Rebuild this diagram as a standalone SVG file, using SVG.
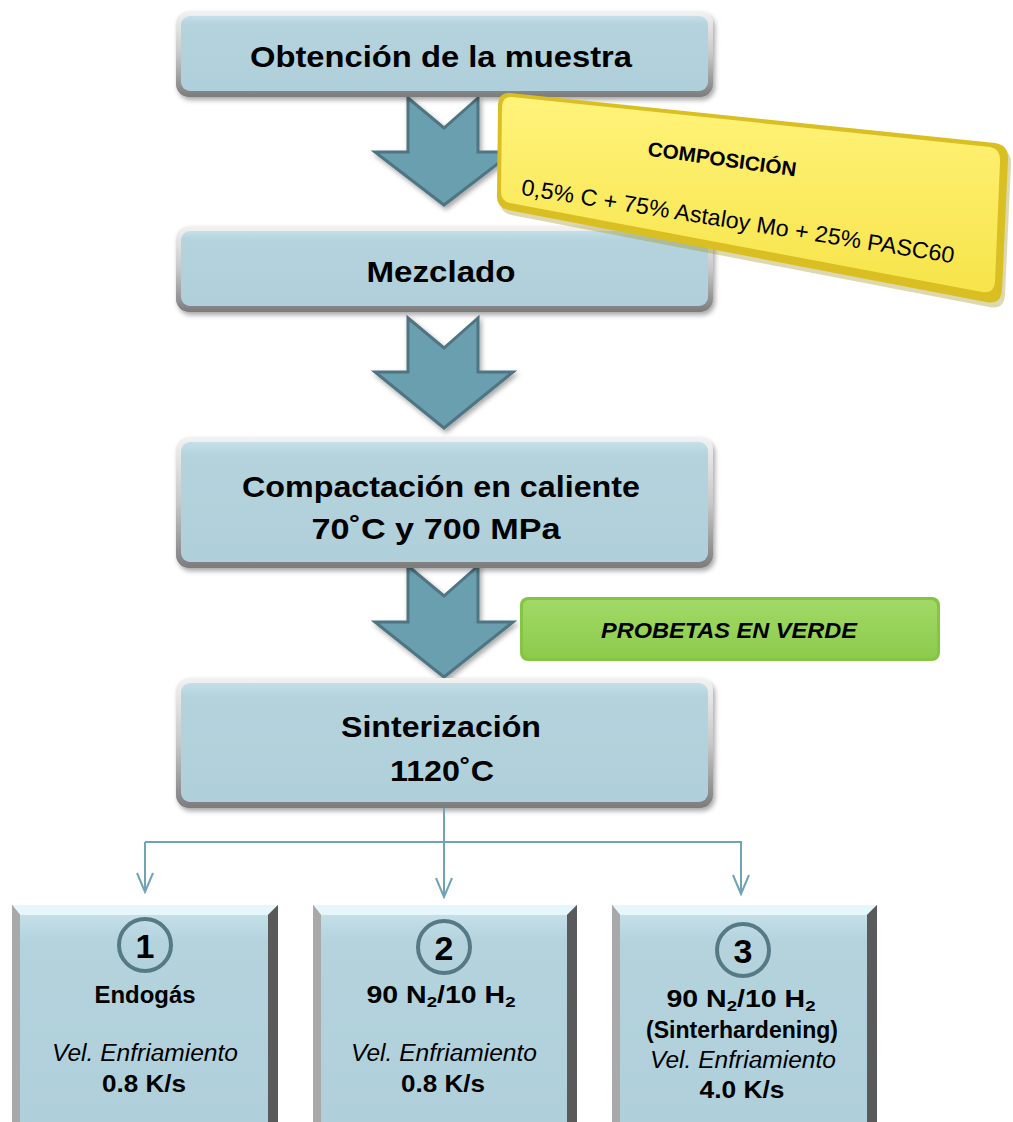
<svg xmlns="http://www.w3.org/2000/svg" width="1013" height="1122" viewBox="0 0 1013 1122">
<defs>
<linearGradient id="gFrame" x1="0" y1="0" x2="0" y2="1">
<stop offset="0" stop-color="#f2f2f2"/><stop offset="0.5" stop-color="#c8c8c8"/><stop offset="1" stop-color="#7c7c7c"/>
</linearGradient>
<linearGradient id="gFace" x1="0" y1="0" x2="0" y2="1">
<stop offset="0" stop-color="#c4dfe8"/><stop offset="0.12" stop-color="#b4d3dd"/><stop offset="1" stop-color="#afcfda"/>
</linearGradient>
<linearGradient id="gYellow" x1="0" y1="0" x2="0" y2="1">
<stop offset="0" stop-color="#fff37a"/><stop offset="1" stop-color="#f7e44a"/>
</linearGradient>
<linearGradient id="gGreen" x1="0" y1="0" x2="0" y2="1">
<stop offset="0" stop-color="#a2d966"/><stop offset="1" stop-color="#8ccb4c"/>
</linearGradient>
<filter id="sh" x="-10%" y="-10%" width="120%" height="130%">
<feDropShadow dx="2" dy="3" stdDeviation="2.5" flood-color="#000" flood-opacity="0.35"/>
</filter>
<marker id="arr" markerWidth="22" markerHeight="18" refX="20" refY="9" orient="auto" markerUnits="userSpaceOnUse" viewBox="0 0 22 18">
<path d="M1,1 L20,9 L1,17" fill="none" stroke="#6fa3b5" stroke-width="2"/>
</marker>
<style>
.t{font-family:"Liberation Sans",Arial,sans-serif;fill:#000;}
.b{font-weight:bold;}
.i{font-style:italic;}
.frame{fill:url(#gFrame);filter:url(#sh);}
.face{fill:url(#gFace);}
.arrow{fill:#6b9fb0;stroke:#4f7582;stroke-width:3;stroke-linejoin:miter;filter:url(#sh);}
.con{fill:none;stroke:#6fa3b5;stroke-width:2;}
.circ{fill:none;stroke:#557a86;stroke-width:4;}
.bevL{fill:#a9a9a9;}
.bevT{fill:#e6f7fb;}
.bevR{fill:#5a5a5a;}
</style>
</defs>

<g id="arrows">
<path class="arrow" d="M408,98 L444,128 L478,98 L478,152 L513,152 L444,205 L375,152 L408,152 Z"/>
<path class="arrow" d="M408,318 L444,348 L478,318 L478,372 L513,372 L444,428 L375,372 L408,372 Z"/>
<path class="arrow" d="M408,566 L444,596 L478,566 L478,622 L513,622 L444,677 L375,622 L408,622 Z"/>
</g>

<g id="n1">
<rect class="frame" x="176" y="11" width="537" height="86" rx="13"/>
<rect class="face" x="181" y="16" width="527" height="75" rx="9"/>
<text class="t b" x="441" y="67" font-size="30" text-anchor="middle" textLength="382" lengthAdjust="spacingAndGlyphs">Obtención de la muestra</text>
</g>

<g id="n2">
<rect class="frame" x="176" y="226" width="537" height="86" rx="13"/>
<rect class="face" x="181" y="231" width="527" height="75" rx="9"/>
<text class="t b" x="441" y="282" font-size="30" text-anchor="middle" textLength="149" lengthAdjust="spacingAndGlyphs">Mezclado</text>
</g>

<g id="composicion">
<path d="M510,93 L995,143 Q1009,145 1008,160 L1002,290 Q1001,305 986,302 L508,210 Q496,207 497,195 L498,104 Q499,92 510,93 Z" fill="#a08f20" opacity="0.35" transform="translate(3,5)"/>
<path d="M510,93 L995,143 Q1009,145 1008,160 L1002,290 Q1001,305 986,302 L508,210 Q496,207 497,195 L498,104 Q499,92 510,93 Z" fill="#d9bf22"/>
<path d="M512,97 L990,147 Q1001,149 1000,162 L995,282 Q994,294 982,292 L510,203 Q501,201 501,192 L502,106 Q503,96 512,97 Z" fill="url(#gYellow)"/>
<text class="t b" x="722" y="166" font-size="20" text-anchor="middle" textLength="150" lengthAdjust="spacingAndGlyphs" transform="rotate(8 722 160)">COMPOSICIÓN</text>
<text class="t" x="738" y="229" font-size="23" text-anchor="middle" textLength="438" lengthAdjust="spacingAndGlyphs" transform="rotate(9 738 221)">0,5% C + 75% Astaloy Mo + 25% PASC60</text>
</g>

<g id="n3">
<rect class="frame" x="176" y="437" width="537" height="131" rx="13"/>
<rect class="face" x="181" y="442" width="527" height="120" rx="9"/>
<text class="t b" x="441" y="497" font-size="30" text-anchor="middle" textLength="398" lengthAdjust="spacingAndGlyphs">Compactación en caliente</text>
<text class="t b" x="436" y="539" font-size="30" text-anchor="middle" textLength="249" lengthAdjust="spacingAndGlyphs">70˚C y 700 MPa</text>
</g>

<g id="verde">
<rect x="520" y="597" width="420" height="64" rx="8" fill="#86c443"/>
<rect x="523" y="600" width="414" height="58" rx="6" fill="url(#gGreen)"/>
<text class="t b i" x="729" y="638" font-size="22" text-anchor="middle" textLength="256" lengthAdjust="spacingAndGlyphs">PROBETAS EN VERDE</text>
</g>

<g id="n4">
<rect class="frame" x="176" y="678" width="537" height="130" rx="13"/>
<rect class="face" x="181" y="683" width="527" height="119" rx="9"/>
<text class="t b" x="441" y="737" font-size="30" text-anchor="middle" textLength="200" lengthAdjust="spacingAndGlyphs">Sinterización</text>
<text class="t b" x="442" y="781" font-size="30" text-anchor="middle" textLength="104" lengthAdjust="spacingAndGlyphs">1120˚C</text>
</g>

<g id="connectors">
<line class="con" x1="444" y1="808" x2="444" y2="897" marker-end="url(#arr)"/>
<polyline class="con" points="145,842 741,842 741,894" marker-end="url(#arr)"/>
<line class="con" x1="145" y1="842" x2="145" y2="892" marker-end="url(#arr)"/>
</g>

<g id="b1">
<rect x="12" y="905" width="266" height="230" fill="#8d8d8d"/>
<polygon class="bevT" points="12,905 278,905 268,915 20,915"/>
<polygon class="bevL" points="12,905 20,915 20,1135 12,1135"/>
<polygon class="bevR" points="278,905 268,915 268,1135 278,1135"/>
<rect class="face" x="20" y="915" width="248" height="220"/>
<circle class="circ" cx="145" cy="945" r="26"/>
<text class="t b" x="145" y="958" font-size="34" text-anchor="middle">1</text>
<text class="t b" x="145" y="1003" font-size="23" text-anchor="middle" textLength="101" lengthAdjust="spacingAndGlyphs">Endogás</text>
<text class="t i" x="145" y="1061" font-size="23" text-anchor="middle" textLength="186" lengthAdjust="spacingAndGlyphs">Vel. Enfriamiento</text>
<text class="t b" x="144" y="1092" font-size="23" text-anchor="middle" textLength="84" lengthAdjust="spacingAndGlyphs">0.8 K/s</text>
</g>

<g id="b2">
<rect x="313" y="905" width="264" height="230" fill="#8d8d8d"/>
<polygon class="bevT" points="313,905 577,905 567,915 321,915"/>
<polygon class="bevL" points="313,905 321,915 321,1135 313,1135"/>
<polygon class="bevR" points="577,905 567,915 567,1135 577,1135"/>
<rect class="face" x="321" y="915" width="246" height="220"/>
<circle class="circ" cx="444" cy="947" r="26"/>
<text class="t b" x="444" y="960" font-size="34" text-anchor="middle">2</text>
<text class="t b" x="441" y="1003" font-size="23" text-anchor="middle" textLength="149" lengthAdjust="spacingAndGlyphs">90 N<tspan font-size="15" dy="4">2</tspan><tspan dy="-4">/10 H</tspan><tspan font-size="15" dy="4">2</tspan></text>
<text class="t i" x="444" y="1061" font-size="23" text-anchor="middle" textLength="186" lengthAdjust="spacingAndGlyphs">Vel. Enfriamiento</text>
<text class="t b" x="443" y="1092" font-size="23" text-anchor="middle" textLength="84" lengthAdjust="spacingAndGlyphs">0.8 K/s</text>
</g>

<g id="b3">
<rect x="612" y="905" width="265" height="230" fill="#8d8d8d"/>
<polygon class="bevT" points="612,905 877,905 867,915 620,915"/>
<polygon class="bevL" points="612,905 620,915 620,1135 612,1135"/>
<polygon class="bevR" points="877,905 867,915 867,1135 877,1135"/>
<rect class="face" x="620" y="915" width="247" height="220"/>
<circle class="circ" cx="743" cy="950" r="26"/>
<text class="t b" x="743" y="963" font-size="34" text-anchor="middle">3</text>
<text class="t b" x="741" y="1007" font-size="23" text-anchor="middle" textLength="149" lengthAdjust="spacingAndGlyphs">90 N<tspan font-size="15" dy="4">2</tspan><tspan dy="-4">/10 H</tspan><tspan font-size="15" dy="4">2</tspan></text>
<text class="t b" x="742" y="1038" font-size="23" text-anchor="middle" textLength="192" lengthAdjust="spacingAndGlyphs">(Sinterhardening)</text>
<text class="t i" x="743" y="1068" font-size="23" text-anchor="middle" textLength="186" lengthAdjust="spacingAndGlyphs">Vel. Enfriamiento</text>
<text class="t b" x="742" y="1098" font-size="23" text-anchor="middle" textLength="85" lengthAdjust="spacingAndGlyphs">4.0 K/s</text>
</g>
</svg>
